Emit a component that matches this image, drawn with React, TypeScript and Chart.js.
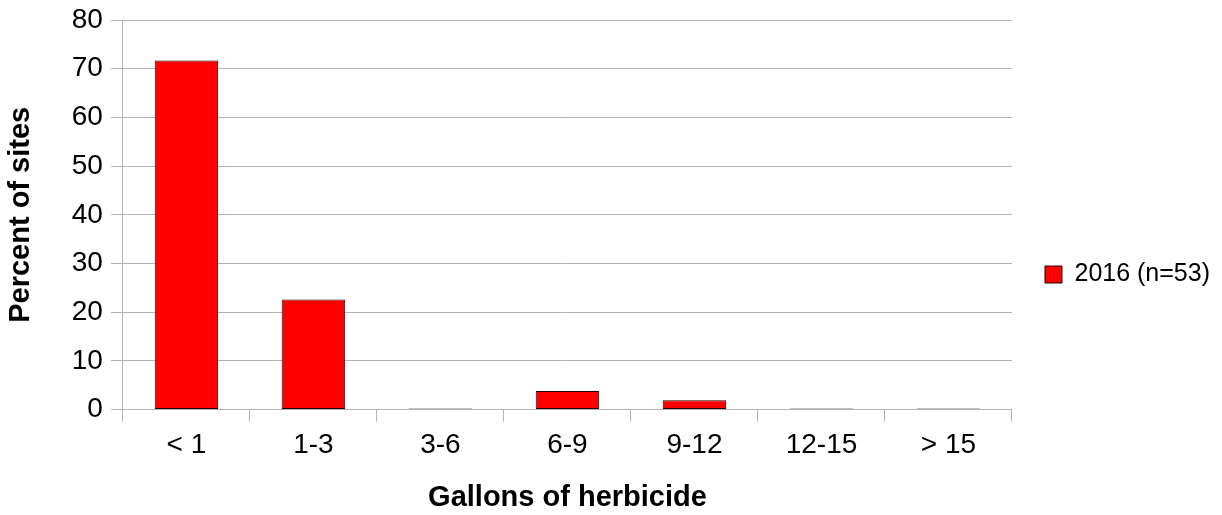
import React, { useEffect, useRef } from "react";
import { Chart, registerables } from "chart.js";

Chart.register(...registerables);

const categories = ["< 1", "1-3", "3-6", "6-9", "9-12", "12-15", "> 15"];
const percentValues = [71.7, 22.6, 0, 3.8, 1.9, 0, 0];
const seriesLabel = "2016 (n=53)";
const yTitle = "Percent of sites";
const xTitle = "Gallons of herbicide";
const yMin = 0;
const yMax = 80;
const yStep = 10;

const FONT = "'Liberation Sans', Arial, sans-serif";
const GRID = "#b3b3b3";

export default function App() {
  const ref = useRef<HTMLCanvasElement | null>(null);
  useEffect(() => {
    document.body.style.margin = "0";
    const canvas = ref.current;
    if (!canvas) return;
    const chart = new Chart(canvas, {
      type: "bar",
      data: {
        labels: categories,
        datasets: [
          {
            label: seriesLabel,
            data: percentValues,
            backgroundColor: "#ff0000",
            borderColor: "#200000",
            borderWidth: 1,
            borderSkipped: false,
            minBarLength: 1,
            barPercentage: 0.5,
            categoryPercentage: 1,
          },
        ],
      },
      options: {
        animation: false,
        responsive: false,
        maintainAspectRatio: false,
        layout: { padding: { top: 0, right: 2, bottom: 0, left: 4 } },
        plugins: {
          tooltip: { enabled: false },
          legend: {
            position: "right",
            title: { display: true, text: " ", font: { size: 10 }, padding: 11 },
            labels: {
              color: "#000",
              font: { family: FONT, size: 25 },
              boxWidth: 17,
              boxHeight: 17,
              padding: 10,
            },
          },
        },
        scales: {
          x: {
            offset: true,
            grid: {
              offset: true,
              color: (ctx: any) => (ctx.index === categories.length ? GRID : "rgba(0,0,0,0)"),
              tickColor: GRID,
              tickLength: 12,
              drawOnChartArea: true,
            },
            border: { color: GRID },
            ticks: { color: "#000", font: { family: FONT, size: 28 }, padding: 7 },
            title: {
              display: true,
              text: xTitle,
              color: "#000",
              font: { family: FONT, size: 29, weight: "bold" },
              padding: { top: 11, bottom: 0 },
            },
          },
          y: {
            min: yMin,
            max: yMax,
            ticks: {
              stepSize: yStep,
              color: "#000",
              font: { family: FONT, size: 28, lineHeight: 0.86 },
              padding: 8,
            },
            grid: { color: GRID, tickColor: GRID, tickLength: 12 },
            border: { color: GRID },
            title: {
              display: true,
              text: yTitle,
              color: "#000",
              font: { family: FONT, size: 29, weight: "bold" },
              padding: { top: 0, bottom: 25 },
            },
          },
          spacer: {
            type: "linear",
            position: "right",
            display: true,
            min: yMin,
            max: yMax,
            ticks: { display: false },
            grid: { display: false, drawOnChartArea: false },
            border: { display: false },
            afterFit: (scale: any) => {
              scale.width = 23;
            },
          },
        },
      },
    });
    return () => chart.destroy();
  }, []);
  return (
    <div style={{ width: 1222, height: 515 }}>
      <canvas ref={ref} width={1222} height={515} style={{ width: 1222, height: 515, display: "block" }} />
    </div>
  );
}
